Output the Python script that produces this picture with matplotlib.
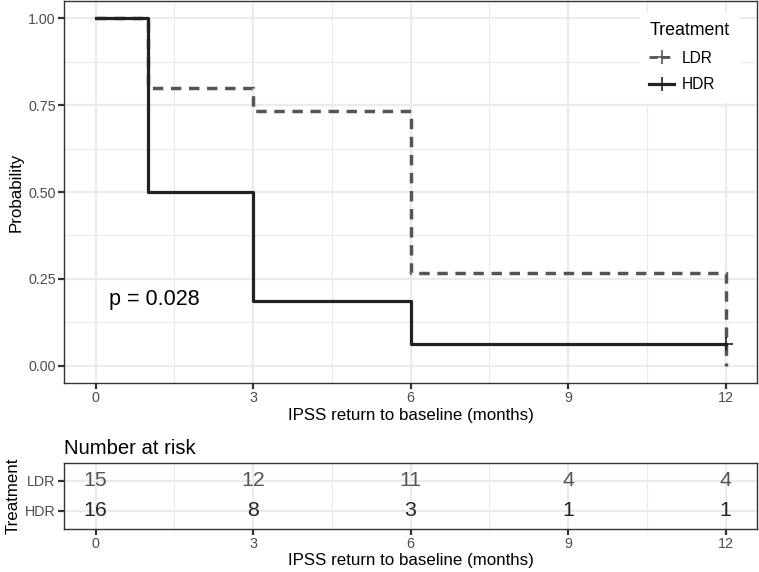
import matplotlib.pyplot as plt
from matplotlib.lines import Line2D

plt.rcParams['font.family'] = ['Liberation Sans', 'DejaVu Sans']

# survival step data (time, probability)
hdr_time = [0, 1, 3, 6, 12]
hdr_surv = [1.0, 0.5, 0.1875, 0.0625, 0.0625]
ldr_time = [0, 1, 3, 6, 12]
ldr_surv = [1.0, 0.8, 0.7333, 0.2667, 0.0]
hdr_censor_t = [12]
hdr_censor_s = [0.0625]

risk_times = [0, 3, 6, 9, 12]
risk_ldr = [15, 12, 11, 4, 4]
risk_hdr = [16, 8, 3, 1, 1]

ldr_col = '#555555'
hdr_col = '#222222'
grid_col = '#EBEBEB'
tick_col = '#4D4D4D'

W, H = 759, 572
fig = plt.figure(figsize=(W / 100, H / 100), dpi=100)


def px_axes(l, t, r, b):
    return fig.add_axes([l / W, 1 - b / H, (r - l) / W, (b - t) / H])


def style(ax):
    ax.set_axisbelow(True)
    ax.grid(which='major', color=grid_col, lw=1.6)
    ax.grid(which='minor', color=grid_col, lw=0.8)
    for s in ax.spines.values():
        s.set_color('#333333')
        s.set_linewidth(1.0)
    ax.tick_params(which='major', length=4, width=1.6, color='#333333',
                   labelcolor=tick_col, labelsize=10.3, pad=2)
    ax.tick_params(which='minor', length=0)


# main survival panel
ax = px_axes(64, 1, 757, 383)
ax.step(ldr_time, ldr_surv, where='post', color=ldr_col, lw=2.5,
        ls=(0, (3, 2.2)))
ax.step(hdr_time, hdr_surv, where='post', color=hdr_col, lw=2.3)
ax.plot(hdr_censor_t, hdr_censor_s, ls='none', marker='+', ms=10,
        mew=1.2, color=hdr_col)
ax.set_xlim(-0.6, 12.6)
ax.set_ylim(-0.05, 1.05)
ax.set_xticks(risk_times)
ax.set_xticks([1.5, 4.5, 7.5, 10.5], minor=True)
ax.set_yticks([0, 0.25, 0.5, 0.75, 1.0])
ax.set_yticklabels(['0.00', '0.25', '0.50', '0.75', '1.00'])
ax.set_yticks([0.125, 0.375, 0.625, 0.875], minor=True)
style(ax)
ax.set_xlabel('IPSS return to baseline (months)', fontsize=12.2, labelpad=2)
ax.set_ylabel('Probability', fontsize=12.2, labelpad=3)
ax.text(0.25, 0.19, 'p = 0.028', fontsize=15.5, color='black', va='center')

handles = [
    Line2D([], [], color=ldr_col, lw=2, ls=(0, (3, 1.5)), marker='+',
           ms=10, mew=1.2),
    Line2D([], [], color=hdr_col, lw=2.3, marker='+', ms=10, mew=1.2),
]
leg = ax.legend(handles, ['LDR', 'HDR'], title='Treatment', loc='upper right',
                bbox_to_anchor=(0.985, 0.99), frameon=True, fancybox=False,
                edgecolor='white', framealpha=1, fontsize=11.2,
                title_fontsize=12.8, handlelength=1.6, handletextpad=0.5,
                labelspacing=0.75, borderpad=0.6)
leg._legend_box.align = 'left'

# number-at-risk table
at = px_axes(64, 463, 757, 529)
for t, n in zip(risk_times, risk_ldr):
    at.text(t, 1, str(n), ha='center', va='center', fontsize=15.4,
            color=ldr_col)
for t, n in zip(risk_times, risk_hdr):
    at.text(t, 0, str(n), ha='center', va='center', fontsize=15.4,
            color=hdr_col)
at.set_xlim(-0.6, 12.6)
at.set_ylim(-0.6, 1.6)
at.set_xticks(risk_times)
at.set_xticks([1.5, 4.5, 7.5, 10.5], minor=True)
at.set_yticks([0, 1])
at.set_yticklabels(['HDR', 'LDR'])
style(at)
at.set_xlabel('IPSS return to baseline (months)', fontsize=12.2, labelpad=1)
at.set_ylabel('Treatment', fontsize=12.2, labelpad=3)
fig.text(64 / W, 1 - 448 / H, 'Number at risk', fontsize=14.6,
         va='center', ha='left')

fig.savefig('out.png', dpi=100)
plt.close(fig)
